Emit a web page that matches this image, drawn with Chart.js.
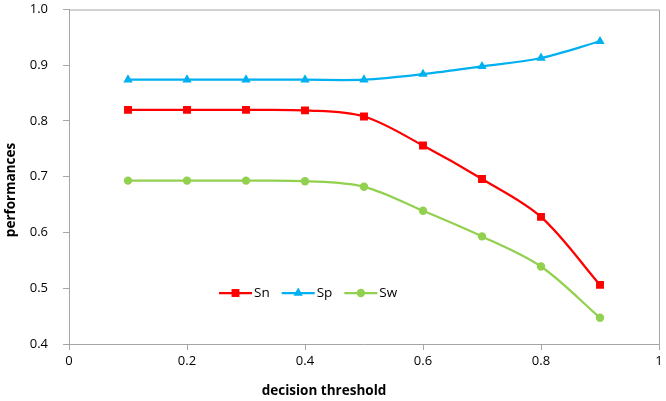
<!DOCTYPE html>
<html>
<head>
<meta charset="utf-8">
<script src="https://cdn.jsdelivr.net/npm/chart.js@4.4.0/dist/chart.umd.min.js"></script>
<style>
  html, body { margin: 0; padding: 0; background: #fff; }
  #wrap { width: 666px; height: 401px; position: relative; }
</style>
</head>
<body>
<div id="wrap"><canvas id="grafico"></canvas></div>
<script>
// valori
const thresholds = [0.1, 0.2, 0.3, 0.4, 0.5, 0.6, 0.7, 0.8, 0.9];
const snValues = [0.820, 0.820, 0.820, 0.819, 0.808, 0.756, 0.696, 0.628, 0.506];
const spValues = [0.874, 0.874, 0.874, 0.874, 0.874, 0.884, 0.898, 0.913, 0.943];
const swValues = [0.693, 0.693, 0.693, 0.692, 0.682, 0.639, 0.593, 0.539, 0.447];
const xTicks = [0, 0.2, 0.4, 0.6, 0.8, 1];
const yTicks = [0.4, 0.5, 0.6, 0.7, 0.8, 0.9, 1.0];
const seriesNames = ["Sn", "Sp", "Sw"];

const AXIS_COLOR = "#a6a6a6";
const FONT = "'Open Sans', 'Liberation Sans', sans-serif";

function toPoints(vals) {
    return thresholds.map(function (x, i) { return {x: x, y: vals[i]}; });
}

// bordo, legenda e titoli degli assi
const extras = {
    id: "extras",
    afterDraw(chart) {
        const c = chart.ctx;
        const a = chart.chartArea;
        c.save();
        c.strokeStyle = AXIS_COLOR;
        c.lineWidth = 1;
        c.beginPath();
        c.moveTo(a.left, a.top + 0.5);
        c.lineTo(a.right + 0.5, a.top + 0.5);
        c.lineTo(a.right + 0.5, a.bottom);
        c.stroke();

        // legenda
        c.font = "13.5px " + FONT;
        c.textBaseline = "middle";
        c.fillStyle = "#000";
        let lx = 219;
        const ly = 293;
        chart.data.datasets.forEach(function (ds) {
            c.strokeStyle = ds.borderColor;
            c.lineWidth = ds.borderWidth;
            c.beginPath();
            c.moveTo(lx, ly);
            c.lineTo(lx + 33, ly);
            c.stroke();
            c.fillStyle = ds.pointBackgroundColor;
            c.strokeStyle = ds.pointBackgroundColor;
            Chart.helpers.drawPoint(c, {pointStyle: ds.pointStyle, radius: ds.pointRadius, borderWidth: 0}, lx + 16.5, ly);
            c.fillStyle = "#000";
            c.fillText(ds.label, lx + 35, ly);
            lx += 35 + c.measureText(ds.label).width + 12;
        });

        // titoli
        c.font = "bold 13.5px " + FONT;
        c.textAlign = "center";
        c.fillText("decision threshold", 324, 391);
        c.translate(11, 190);
        c.rotate(-Math.PI / 2);
        c.fillText("performances", 0, 0);
        c.restore();
    }
};

const colors = ["#ff0000", "#00b0f0", "#92d050"];
const styles = ["rect", "triangle", "circle"];
const radii = [5.6, 5.4, 4.2];
const allValues = [snValues, spValues, swValues];

const datasets = seriesNames.map(function (name, i) {
    return {
        label: name,
        data: toPoints(allValues[i]),
        borderColor: colors[i],
        backgroundColor: colors[i],
        pointBackgroundColor: colors[i],
        pointBorderColor: colors[i],
        pointBorderWidth: 0,
        pointStyle: styles[i],
        pointRadius: radii[i],
        borderWidth: 2.25,
        tension: 0.33,
        fill: false
    };
});

const ctx = document.getElementById("grafico").getContext("2d");
new Chart(ctx, {
    type: "line",
    data: { datasets: datasets },
    options: {
        responsive: true,
        maintainAspectRatio: false,
        animation: false,
        events: [],
        layout: { padding: { left: 0, right: 7, top: 9.5, bottom: 0 } },
        plugins: {
            legend: { display: false },
            tooltip: { enabled: false }
        },
        scales: {
            x: {
                type: "linear",
                min: 0,
                max: 1,
                afterBuildTicks: function (s) { s.ticks = xTicks.map(function (v) { return {value: v}; }); },
                afterFit: function (s) { s.height = 57; s.paddingLeft = 0; s.paddingRight = 0; },
                ticks: {
                    color: "#000",
                    font: { family: FONT, size: 13 },
                    padding: 3,
                    maxRotation: 0,
                    callback: function (v) { return String(Math.round(v * 10) / 10); }
                },
                grid: { drawOnChartArea: false, drawTicks: true, tickLength: 6, color: AXIS_COLOR },
                border: { color: AXIS_COLOR }
            },
            y: {
                min: 0.4,
                max: 1.0,
                afterBuildTicks: function (s) { s.ticks = yTicks.map(function (v) { return {value: v}; }); },
                afterFit: function (s) { s.width = 69; s.paddingTop = 0; s.paddingBottom = 0; },
                ticks: {
                    color: "#000",
                    font: { family: FONT, size: 13 },
                    padding: 15,
                    callback: function (v) { return v.toFixed(1); }
                },
                grid: { drawOnChartArea: false, drawTicks: true, tickLength: 6, color: AXIS_COLOR },
                border: { color: AXIS_COLOR }
            }
        }
    },
    plugins: [extras]
});
</script>
</body>
</html>
